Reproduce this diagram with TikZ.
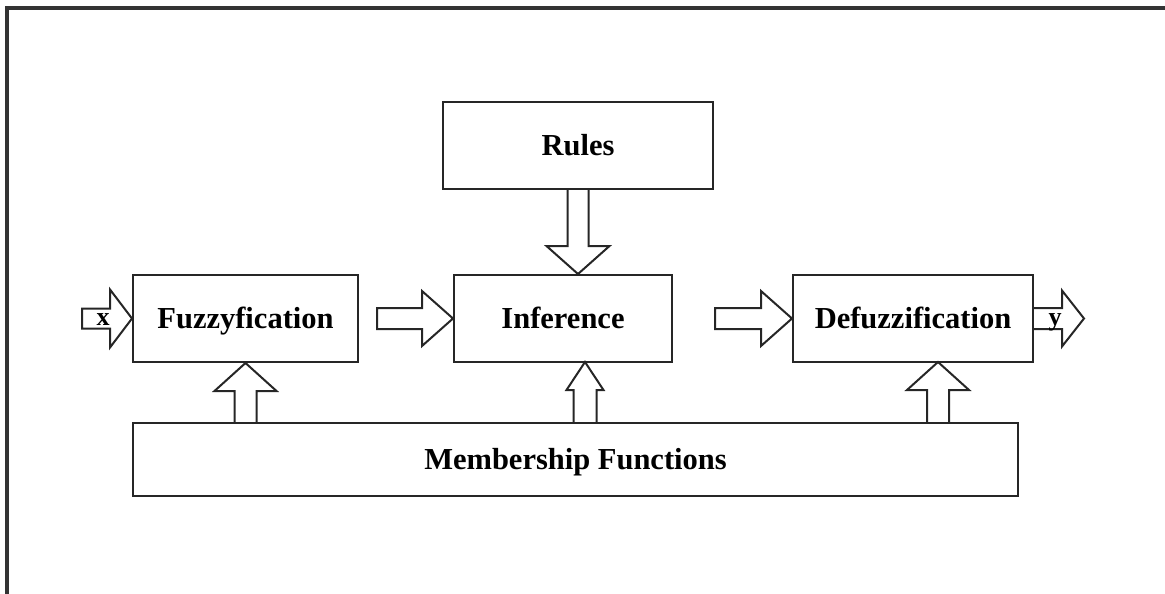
\documentclass[tikz,border=0pt]{standalone}
\usepackage{fontspec}
\setmainfont{Liberation Serif}
\usetikzlibrary{calc}
\tikzset{
  box/.style={draw=black!85, line width=2pt, rectangle, inner sep=0pt,
    text height=22pt, text depth=3pt,
    font=\bfseries\fontsize{30.5}{36}\selectfont},
  blk/.style={draw=black!85, line width=2pt, line join=miter},
  io/.style={font=\bfseries\fontsize{26}{30}\selectfont, inner sep=0pt},
  frame/.style={draw=black!80, line width=3.2pt}
}
% vertical block arrow: base, tip, shaft half, head half, head length (signed, toward base)
\newcommand{\vblock}[5]{%
  \draw[blk] ($(#1)+(-#3,0)$) -- ($(#2)+(-#3,#5)$) -- ($(#2)+(-#4,#5)$) -- (#2)
    -- ($(#2)+(#4,#5)$) -- ($(#2)+(#3,#5)$) -- ($(#1)+(#3,0)$);}
% horizontal block arrow (rightwards): start, tip, shaft half, head half, head length, closing
\newcommand{\hblock}[6]{%
  \draw[blk] ($(#1)+(0,-#3)$) -- ($(#2)+(-#5,-#3)$) -- ($(#2)+(-#5,-#4)$) -- (#2)
    -- ($(#2)+(-#5,#4)$) -- ($(#2)+(-#5,#3)$) -- ($(#1)+(0,#3)$) #6;}
\begin{document}
\begin{tikzpicture}[x=1pt,y=-1pt]
\useasboundingbox (0,0) rectangle (1165,594);
\draw[frame] (7,594) -- (7,8) -- (1165,8);

\node[box, minimum width=270pt, minimum height=87pt] (rules) at (578,145.5) {Rules};
\node[box, minimum width=225pt, minimum height=87pt] (fuzz) at (245.5,318.5) {Fuzzyfication};
\node[box, minimum width=218pt, minimum height=87pt] (inf) at (563,318.5) {Inference};
\node[box, minimum width=240pt, minimum height=87pt] (defuzz) at (913,318.5) {Defuzzification};
\node[box, minimum width=885pt, minimum height=73pt] (mem) at (575.5,459.5) {Membership Functions};

% input and output
\coordinate (xin) at ($(fuzz.west)+(-50,0)$);
\coordinate (yout) at ($(defuzz.east)+(50,0)$);
\hblock{xin}{fuzz.west}{10}{29}{22}{-- cycle}
\hblock{defuzz.east}{yout}{10.5}{28}{22}{}
\node[io] (xl) at (103,320) {x};
\node[io] (yl) at (1055,322) {y};

% between blocks
\coordinate (a1) at ($(fuzz.east)+(18,0)$);
\coordinate (a2) at ($(inf.east)+(42,0)$);
\hblock{a1}{inf.west}{10.5}{27.5}{31}{-- cycle}
\hblock{a2}{defuzz.west}{10.5}{27.5}{31}{-- cycle}

% rules down
\coordinate (rt) at (rules.south |- inf.north);
\vblock{rules.south}{rt}{10.5}{31.5}{-28}

% membership up
\coordinate (m1) at (fuzz.south |- mem.north);
\vblock{m1}{fuzz.south}{11}{31}{28}
\coordinate (t2) at (585,362);
\coordinate (m2) at (t2 |- mem.north);
\vblock{m2}{t2}{11.5}{18.5}{28}
\coordinate (t3) at (938,362);
\coordinate (m3) at (t3 |- mem.north);
\vblock{m3}{t3}{11}{31}{28}
\end{tikzpicture}
\end{document}
